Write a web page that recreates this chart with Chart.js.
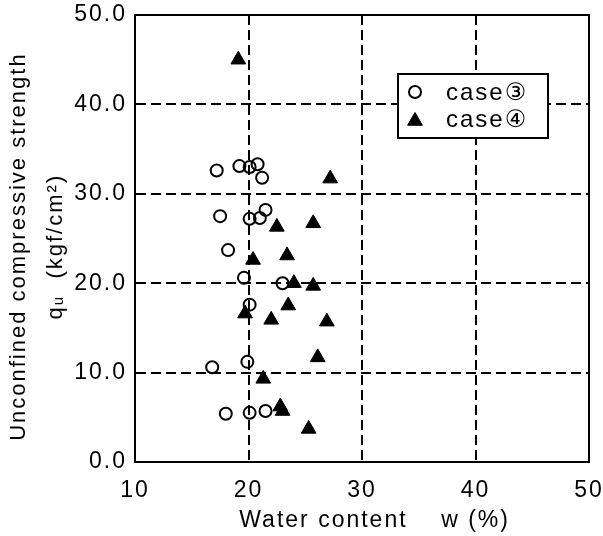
<!DOCTYPE html>
<html>
<head>
<meta charset="utf-8">
<script src="https://cdn.jsdelivr.net/npm/chart.js@4/dist/chart.umd.min.js"></script>
<style>
  html, body { margin: 0; padding: 0; background: #fff; }
  #wrap { width: 603px; height: 536px; }
</style>
</head>
<body>
<div id="wrap"><canvas id="grafico" width="603" height="536"></canvas></div>
<script>
// case3 (open circles)
const case3W = [17.2, 19.2, 20.1, 20.8, 21.2, 17.5, 20.1, 21.0, 21.5, 18.2, 19.6, 23.0, 20.1, 16.8, 19.9, 18.0, 20.1, 21.5];
const case3Q = [32.6, 33.1, 33.0, 33.3, 31.8, 27.5, 27.2, 27.3, 28.2, 23.7, 20.6, 20.0, 17.6, 10.6, 11.2, 5.4, 5.5, 5.7];
// case4 (filled triangles)
const case4W = [19.1, 27.2, 22.5, 25.7, 20.4, 23.4, 24.0, 25.7, 19.7, 23.5, 22.0, 26.9, 26.1, 21.3, 22.8, 23.0, 25.3];
const case4Q = [45.0, 31.7, 26.3, 26.7, 22.6, 23.1, 20.0, 19.7, 16.6, 17.5, 15.9, 15.7, 11.7, 9.3, 6.2, 5.7, 3.7];

const seriesLabels = ['case③', 'case④'];
const xTitle = '   Water content    w (%)';
const yTitle = ['Unconfined compressive strength  ', 'qᵤ  (kgf/cm²)  '];

const pts = (xs, ys) => xs.map((x, i) => ({ x: x, y: ys[i] }));
const fontFam = '"Liberation Sans", Arial, "DejaVu Sans", sans-serif';
const f23 = { family: fontFam, size: 23 };

// letter spacing so text widths look like the scanned figure
const spacing = {
  id: 'spacing',
  beforeUpdate(c) { c.ctx.letterSpacing = '2px'; },
  beforeDraw(c) { c.ctx.letterSpacing = '2px'; }
};

// solid frame round the plot
const frame = {
  id: 'frame',
  afterDatasetsDraw(c) {
    const { ctx, chartArea: a } = c;
    ctx.save();
    ctx.strokeStyle = '#000';
    ctx.lineWidth = 2;
    ctx.strokeRect(a.left, a.top, a.right - a.left, a.bottom - a.top);
    ctx.restore();
  }
};

// legend box inside the plot
const legendBox = {
  id: 'legendBox',
  afterDraw(c) {
    const { ctx, chartArea: a } = c;
    const left = a.right - 191, top = a.top + 59, w = 150, h = 64;
    ctx.save();
    ctx.fillStyle = '#fff';
    ctx.fillRect(left, top, w, h);
    ctx.strokeStyle = '#000';
    ctx.lineWidth = 2;
    ctx.strokeRect(left, top, w, h);
    c.data.datasets.forEach((ds, i) => {
      const rowY = top + 18 + i * 27;
      const my = ds.pointStyle === 'triangle' ? rowY + 2 : rowY;
      ctx.fillStyle = ds.backgroundColor;
      ctx.strokeStyle = ds.borderColor;
      ctx.lineWidth = ds.borderWidth;
      ctx.beginPath();
      Chart.helpers.drawPoint(ctx, { pointStyle: ds.pointStyle, radius: ds.pointRadius, borderWidth: ds.borderWidth, rotation: 0 }, left + 17, my);
      ctx.fillStyle = '#000';
      ctx.font = '24px ' + fontFam;
      ctx.textBaseline = 'middle';
      ctx.textAlign = 'left';
      ctx.fillText(ds.label, left + 48, rowY + 1);
    });
    ctx.restore();
  }
};

new Chart(document.getElementById('grafico').getContext('2d'), {
  type: 'scatter',
  data: {
    datasets: [
      {
        label: seriesLabels[0],
        data: pts(case3W, case3Q),
        pointStyle: 'circle',
        pointRadius: 6,
        pointHoverRadius: 6,
        borderWidth: 2,
        borderColor: '#000',
        backgroundColor: 'rgba(0,0,0,0)'
      },
      {
        label: seriesLabels[1],
        data: pts(case4W, case4Q),
        pointStyle: 'triangle',
        pointRadius: 8.5,
        pointHoverRadius: 8.5,
        borderWidth: 1,
        borderColor: '#000',
        backgroundColor: '#000'
      }
    ]
  },
  options: {
    responsive: false,
    animation: false,
    layout: { padding: { top: 15, right: 14, left: 0, bottom: 0 } },
    plugins: { legend: { display: false }, tooltip: { enabled: false } },
    scales: {
      x: {
        type: 'linear', min: 10, max: 50,
        ticks: { stepSize: 10, padding: 15, color: '#000', font: f23 },
        grid: { color: '#000', lineWidth: 2, drawTicks: false },
        border: { display: true, color: '#000', width: 2, dash: [10, 5] },
        title: { display: true, text: xTitle, color: '#000', font: f23, padding: { top: 0, bottom: 2 } },
        afterFit(s) { s.height = 74; s.paddingLeft = 0; s.paddingRight = 0; }
      },
      y: {
        type: 'linear', min: 0, max: 50,
        ticks: { stepSize: 10, padding: 8, color: '#000', font: f23, callback: v => v.toFixed(1) },
        grid: { color: '#000', lineWidth: 2, drawTicks: false },
        border: { display: true, color: '#000', width: 2, dash: [10, 5] },
        title: { display: true, text: yTitle, color: '#000', font: { family: fontFam, size: 22, lineHeight: 1.7 }, padding: { top: 0, bottom: 0 } },
        afterFit(s) { s.width = 135; s.paddingTop = 0; s.paddingBottom = 0; }
      }
    }
  },
  plugins: [spacing, frame, legendBox]
});
</script>
</body>
</html>
